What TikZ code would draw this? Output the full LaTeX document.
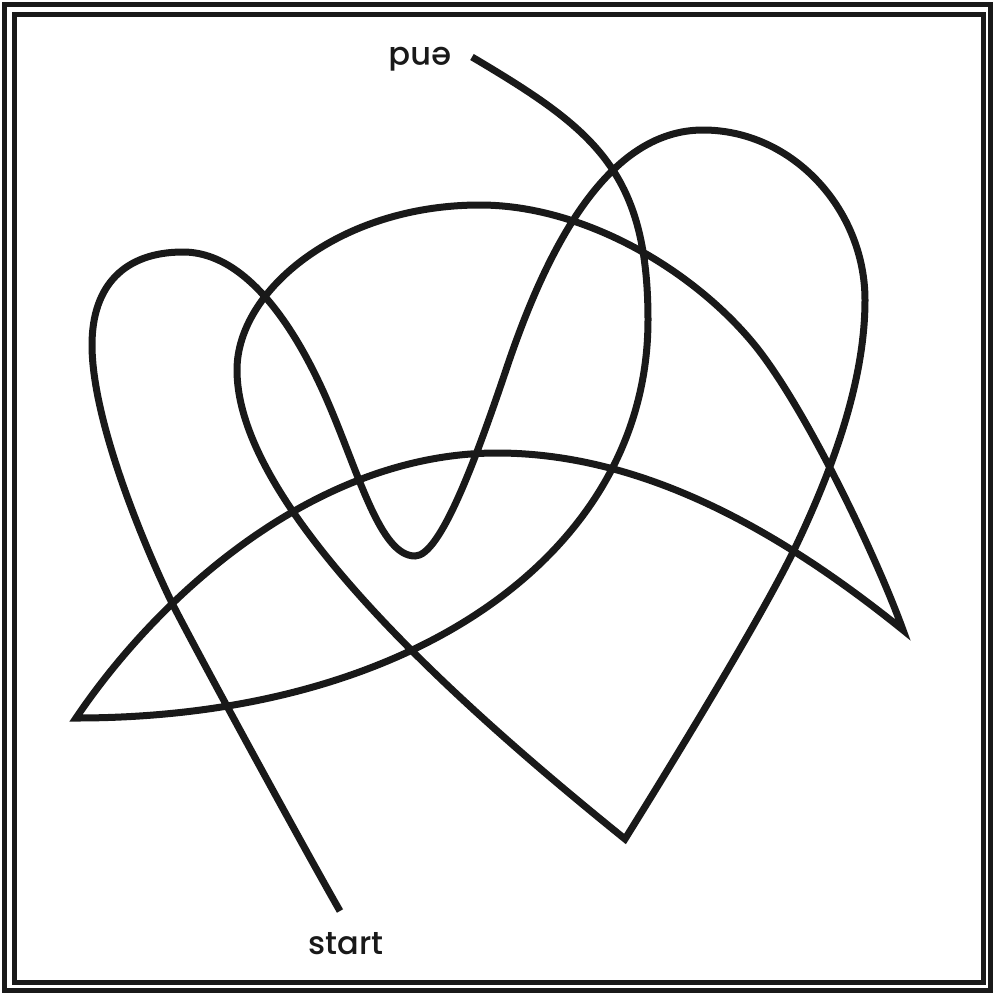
\documentclass[tikz,border=0pt]{standalone}
\usepackage{fontspec}
\setmainfont{Poppins}[UprightFont={* Medium}]
\begin{document}
\begin{tikzpicture}[x=1pt,y=-1pt,
  frameline/.style={line width=5pt, draw=black!90},
  wire/.style={line width=7pt, draw=black!90, line join=miter, miter limit=20},
  lbl/.style={font=\fontsize{32}{38}\selectfont, text=black!90, inner sep=0pt}]
\useasboundingbox (0,0) rectangle (994,994);
\draw[frameline] (4.5,4.5) rectangle (990,990.5);
\draw[frameline] (14.5,14.5) rectangle (983.5,982.5);
\coordinate (s) at (340,911);
\coordinate (c1) at (625,839);
\coordinate (c2) at (903,630);
\coordinate (c3) at (76,718);
\coordinate (e) at (472,57);
\draw[wire]
  % piece A: start -> left loop -> V -> right loop -> bottom corner
  (s) .. controls (310,859) and (199,656) .. (172,603)
      .. controls (150,558) and (92,425) .. (92,345)
      .. controls (92,285) and (125,252) .. (183,252)
      .. controls (253,252) and (303,344.8) .. (327,400)
      .. controls (359,473.6) and (380,556) .. (415,556)
      .. controls (440,556) and (475,462) .. (507,367)
      .. controls (551.8,234) and (613,130) .. (703,130)
      .. controls (793,130) and (865,210) .. (865,300)
      .. controls (865,380) and (833.7,467) .. (795,548)
      .. controls (760.6,620) and (656.8,788) .. (c1)
  % piece B: bottom corner -> inner loop -> right corner
      .. controls (469,713) and (237,510) .. (237,370)
      .. controls (237,290) and (340,205) .. (480,205)
      .. controls (580,205) and (689,266) .. (753,343)
      .. controls (804,404.6) and (875.8,554.8) .. (c2)
  % piece C: right corner -> arch -> left corner
      .. controls (786,535.5) and (647,453) .. (497,453)
      .. controls (317,453) and (160,593.5) .. (c3)
  % piece D: left corner -> right bulge -> end
      .. controls (416,718) and (648,550) .. (648,320)
      .. controls (648,170) and (592.4,128.4) .. (e);
\node[lbl, anchor=base] (start) at (346,954) {start};
\node[lbl, anchor=base, rotate=180] (end) at (420,47) {end};
\end{tikzpicture}
\end{document}
